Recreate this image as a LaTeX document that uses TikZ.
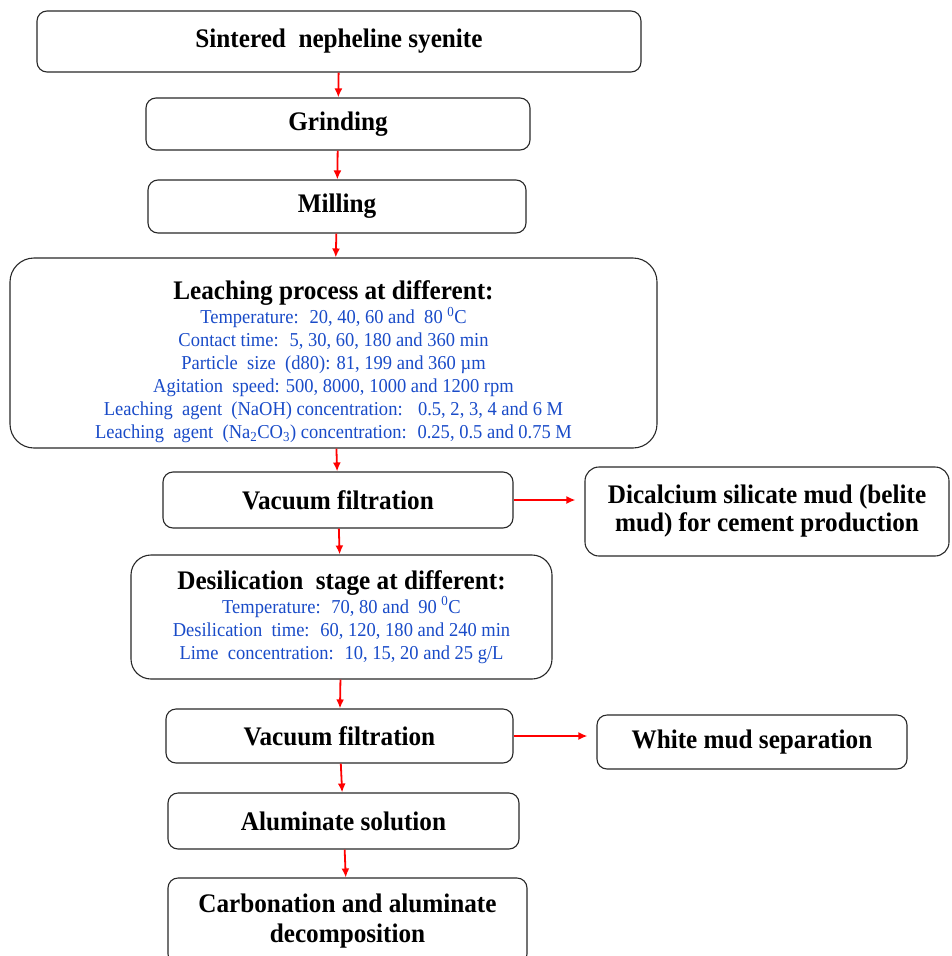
\documentclass[tikz,border=0pt]{standalone}
\usepackage{fontspec}
\setmainfont[FakeStretch=0.94]{Liberation Serif}
\usepackage{tikz}
\usetikzlibrary{arrows, arrows.meta}
\definecolor{parblue}{RGB}{25,75,200}
\definecolor{boxline}{RGB}{40,40,40}
\newcommand{\titlefs}{\color{black}\bfseries\fontsize{26.8}{23}\selectfont}

\begin{document}
\begin{tikzpicture}[x=1pt, y=-1pt]
	\tikzstyle{stepbox}=[rectangle, rounded corners=10pt, draw=boxline, line width=1.1pt, align=center, font=\bfseries\fontsize{26.8}{29}\selectfont, inner sep=2pt]
	\tikzstyle{bigbox}=[stepbox, rounded corners=24pt, text=parblue, font=\mdseries\fontsize{19.7}{23}\selectfont]
	\tikzstyle{connect}=[-{Latex[length=9pt, width=8pt]}, red, line width=1.8pt]
	\tikzstyle{side}=[connect, shorten >=9pt]
	
	\useasboundingbox (0,0) rectangle (952,956);
	
	\node[stepbox, minimum width=604pt, minimum height=61pt] at (339,41.5) (sinter) {Sintered~~nepheline syenite};
	\node[stepbox, minimum width=384pt, minimum height=52pt] at (338,124) (grind) {Grinding};
	\node[stepbox, minimum width=378pt, minimum height=53pt] at (337,206.5) (mill) {Milling};
	
	\node[bigbox, minimum width=647pt, minimum height=190pt] at (333.5,353) (leach) {{\titlefs\rule{0pt}{37pt}Leaching process at different:}\\[1pt]
		Temperature:~ 20, 40, 60 and~ 80 \textsuperscript{0}C\\
		Contact time:~ 5, 30, 60, 180 and 360 min\\
		Particle~ size~ (d80): 81, 199 and 360 µm\\
		Agitation~ speed: 500, 8000, 1000 and 1200 rpm\\
		Leaching~ agent~ (NaOH) concentration:~~ 0.5, 2, 3, 4 and 6 M\\
		Leaching~ agent~ (Na\textsubscript{2}CO\textsubscript{3}) concentration:~ 0.25, 0.5 and 0.75 M};
	
	\node[stepbox, minimum width=350pt, minimum height=56pt] at (338,500) (filt1) {Vacuum filtration};
	\node[stepbox, minimum width=364pt, minimum height=89pt, rounded corners=14pt, font=\bfseries\fontsize{26.8}{28}\selectfont] at (767,511.5) (belite) {Dicalcium silicate mud (belite\\mud) for cement production};
	
	\node[bigbox, rounded corners=20pt, minimum width=421pt, minimum height=124pt] at (341.5,617) (desil) {{\titlefs Desilication~ stage at different:}\\[1pt]
		Temperature:~ 70, 80 and~ 90 \textsuperscript{0}C\\
		Desilication~ time:~ 60, 120, 180 and 240 min\\
		Lime~ concentration:~ 10, 15, 20 and 25 g/L};
	
	\node[stepbox, minimum width=347pt, minimum height=54pt] at (339.5,736) (filt2) {Vacuum filtration};
	\node[stepbox, minimum width=310pt, minimum height=54pt] at (752,742) (white) {White mud separation};
	\node[stepbox, minimum width=351pt, minimum height=56pt] at (343.5,821) (alum) {Aluminate solution};
	\node[stepbox, minimum width=359pt, minimum height=86pt, font=\bfseries\fontsize{26.8}{30}\selectfont] at (347.5,921) (carb) {Carbonation and aluminate\\decomposition};
	
	\path (sinter) edge [connect] (grind)
	(grind) edge [connect] (mill)
	(mill) edge [connect] (leach)
	(leach) edge [connect] (filt1)
	(filt1) edge [connect] (desil)
	(desil) edge [connect] (filt2)
	(filt2) edge [connect] (alum)
	(alum) edge [connect] (carb)
	
	(filt1.east) edge [side] (filt1.east -| belite.west)
	(filt2.east) edge [side] (filt2.east -| white.west);
	
\end{tikzpicture}
\end{document}
